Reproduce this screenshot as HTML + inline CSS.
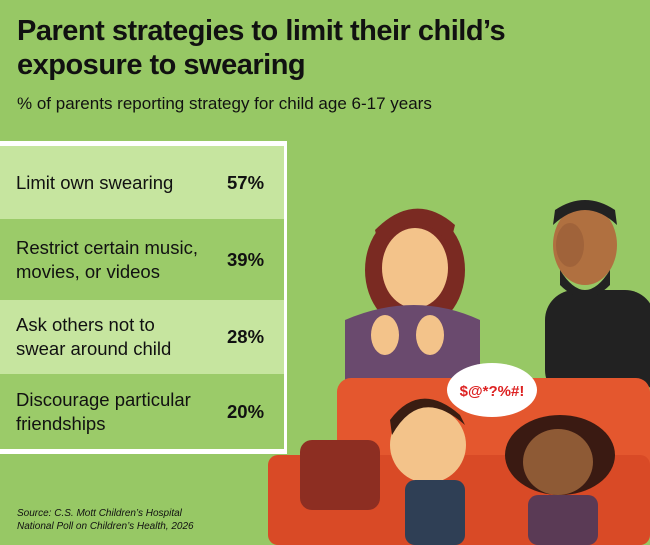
<!DOCTYPE html>
<html><head><style>
body{margin:0;width:650px;height:545px;background:#97c865;font-family:"Liberation Sans",sans-serif;overflow:hidden;position:relative}
h1{position:absolute;left:17px;top:14px;margin:0;font-size:29px;line-height:34px;font-weight:bold;color:#111;letter-spacing:-0.5px}
.sub{position:absolute;left:17px;top:94px;font-size:17px;color:#111}
.box{position:absolute;left:0;top:141px;width:284px;height:307px;border:3px solid #fff;border-left:none;background:#fff}
.row{position:absolute;left:0;width:284px;display:flex;align-items:center;font-size:18.5px;color:#111}
.row .t{position:absolute;left:16px;line-height:24px}
.row .v{position:absolute;left:227px;font-weight:bold;font-size:18.5px}
.l{background:#c6e59f}.d{background:#9bcb69}
.src{position:absolute;left:17px;top:507px;font-size:10px;font-style:italic;line-height:13px;color:#111}
</style></head><body>
<h1>Parent strategies to limit their child’s<br>exposure to swearing</h1>
<div class="sub">% of parents reporting strategy for child age 6-17 years</div>
<div class="box">
<div class="row l" style="top:2px;height:73px"><span class="t">Limit own swearing</span><span class="v">57%</span></div>
<div class="row d" style="top:75px;height:81px"><span class="t">Restrict certain music,<br>movies, or videos</span><span class="v">39%</span></div>
<div class="row l" style="top:156px;height:74px"><span class="t">Ask others not to<br>swear around child</span><span class="v">28%</span></div>
<div class="row d" style="top:230px;height:75px"><span class="t">Discourage particular<br>friendships</span><span class="v">20%</span></div>
</div>
<div class="src">Source: C.S. Mott Children’s Hospital<br>National Poll on Children’s Health, 2026</div>
<svg width="650" height="545" style="position:absolute;left:0;top:0">
<rect x="545" y="290" width="110" height="110" rx="30" fill="#222"/>
<ellipse cx="585" cy="245" rx="32" ry="40" fill="#b07040"/>
<path d="M553 225 Q585 195 617 225 L615 210 Q585 190 555 210Z" fill="#222"/>
<path d="M560 270 Q585 310 610 270 L610 285 Q585 310 560 285Z" fill="#222"/>
<ellipse cx="570" cy="245" rx="14" ry="22" fill="#a0633a"/>
<ellipse cx="415" cy="270" rx="50" ry="60" fill="#7a2a22"/>
<ellipse cx="415" cy="268" rx="33" ry="40" fill="#f3c38a"/>
<path d="M380 250 Q415 200 450 245 L455 225 Q415 190 375 230Z" fill="#7a2a22"/>
<path d="M345 320 Q415 290 480 320 L480 400 L345 400Z" fill="#6a4a6e"/>
<ellipse cx="385" cy="335" rx="14" ry="20" fill="#f3c38a"/>
<ellipse cx="430" cy="335" rx="14" ry="20" fill="#f3c38a"/>
<rect x="337" y="378" width="313" height="167" rx="14" fill="#e4572e"/>
<rect x="268" y="455" width="382" height="90" rx="10" fill="#d94a26"/>
<rect x="300" y="440" width="80" height="70" rx="12" fill="#8d2e22"/>
<ellipse cx="492" cy="390" rx="45" ry="27" fill="#fff"/>
<text x="492" y="396" text-anchor="middle" font-size="15" font-weight="bold" fill="#d22">$@*?%#!</text>
<ellipse cx="428" cy="445" rx="38" ry="38" fill="#f3c38a"/>
<path d="M392 435 Q420 385 465 425 L460 415 Q420 380 390 420Z" fill="#3a1d12"/>
<rect x="405" y="480" width="60" height="65" rx="10" fill="#2f3f55"/>
<ellipse cx="560" cy="455" rx="55" ry="40" fill="#3a1a12"/>
<ellipse cx="558" cy="462" rx="35" ry="33" fill="#8e5a35"/>
<rect x="528" y="495" width="70" height="50" rx="10" fill="#5a3a55"/>
</svg>
</body></html>
